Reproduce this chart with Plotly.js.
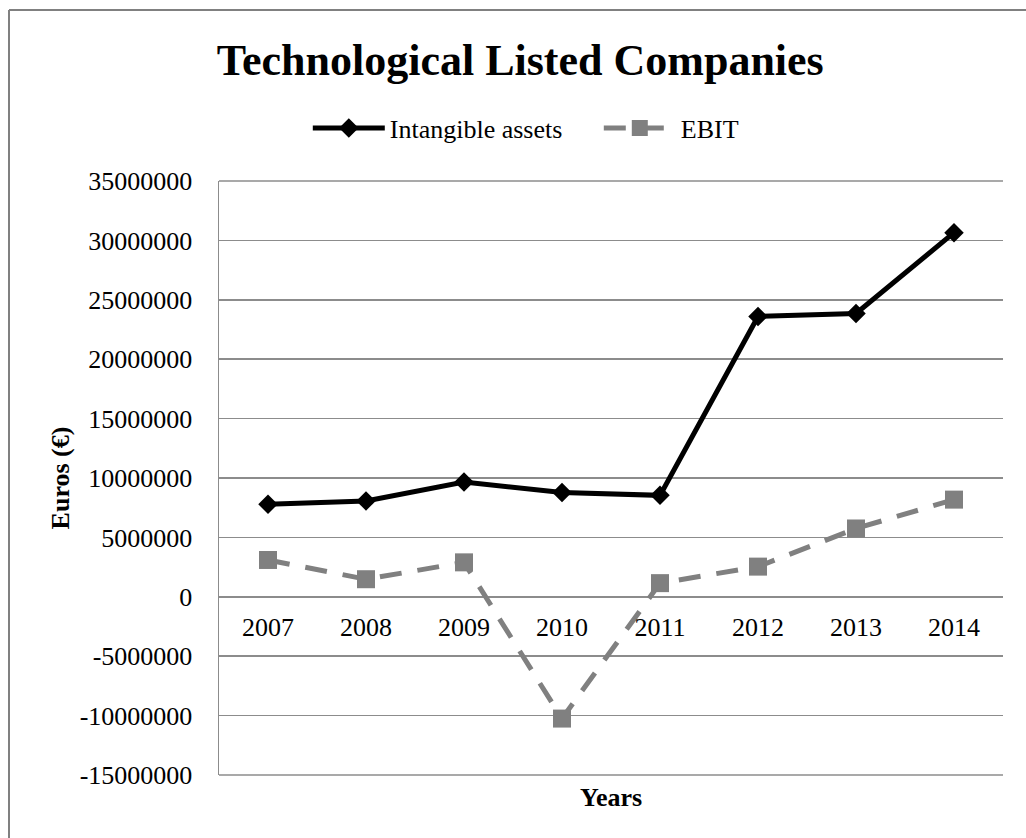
<!DOCTYPE html>
<html>
<head>
<meta charset="utf-8">
<script src="https://cdn.plot.ly/plotly-3.0.1.min.js"></script>
<style>html,body{margin:0;padding:0;background:#fff;}#chart{width:1026px;height:838px;}</style>
</head>
<body>
<div id="chart"></div>
<script>
const years = ['2007','2008','2009','2010','2011','2012','2013','2014'];
const intangibleAssets = [7790000, 8070000, 9660000, 8770000, 8540000, 23600000, 23850000, 30650000];
const ebit = [3100000, 1480000, 2900000, -10250000, 1150000, 2540000, 5750000, 8180000];
const yTicks = [-15000000, -10000000, -5000000, 0, 5000000, 10000000, 15000000, 20000000, 25000000, 30000000, 35000000];

const FONT = 'Liberation Serif';
const GRID = '#8c8c8c';

const traces = [
  {
    x: years, y: intangibleAssets, name: 'Intangible assets', type: 'scatter', mode: 'lines+markers',
    line: {color: '#000000', width: 5},
    marker: {symbol: 'diamond', size: 15, color: '#000000'}
  },
  {
    x: years, y: ebit, name: 'EBIT', type: 'scatter', mode: 'lines+markers',
    line: {color: '#808080', width: 5, dash: '22px,16px'},
    marker: {symbol: 'square', size: 18, color: '#808080'}
  }
];

const L = 219, R = 1003, T = 181, B = 775;
const px = v => (v - L) / (R - L);
const py = v => (B - v) / (B - T);

const layout = {
  width: 1026, height: 838,
  margin: {l: L, r: 1026 - R, t: T, b: 838 - B, pad: 0},
  paper_bgcolor: '#ffffff', plot_bgcolor: '#ffffff',
  font: {family: FONT, size: 26, color: '#000000'},
  hovermode: false,
  showlegend: true,
  title: {text: '<b>Technological Listed Companies</b>', font: {family: FONT, size: 44, color: '#000'},
          xref: 'container', x: 0.507, xanchor: 'center', yref: 'container', y: 1 - 60/838, yanchor: 'middle'},
  legend: {orientation: 'h', xref: 'container', yref: 'container', x: 0.300, xanchor: 'left',
           y: 1 - 128/838, yanchor: 'middle', font: {family: FONT, size: 26, color: '#000000'},
           itemwidth: 72, entrywidth: 204, tracegroupgap: 0, bgcolor: 'rgba(0,0,0,0)'},
  xaxis: {
    type: 'category', categoryorder: 'array', categoryarray: years,
    range: [-0.5, 7.5], anchor: 'free', position: 0.3,
    showgrid: false, zeroline: false, showline: false, ticks: '',
    ticklabelstandoff: 12,
    tickfont: {family: FONT, size: 26, color: '#000'}
  },
  yaxis: {
    range: [-15000000, 35000000], tickvals: yTicks, ticktext: yTicks.map(v => String(v)),
    showgrid: true, gridcolor: GRID, gridwidth: 1.5,
    zeroline: false, showline: true, linecolor: GRID, linewidth: 1.5,
    ticks: '', ticklabelstandoff: 20,
    tickfont: {family: FONT, size: 26, color: '#000'},
    title: {text: '<b>Euros (€)</b>', font: {family: FONT, size: 26, color: '#000'}, standoff: 2}
  },
  annotations: [
    {text: '<b>Years</b>', xref: 'paper', yref: 'paper', x: 0.5, y: py(797), xanchor: 'center', yanchor: 'middle',
     showarrow: false, font: {family: FONT, size: 26, color: '#000'}}
  ],
  shapes: [
    {type: 'line', xref: 'paper', yref: 'paper', x0: px(9), x1: px(1040), y0: py(10), y1: py(10), line: {color: '#808080', width: 2}},
    {type: 'line', xref: 'paper', yref: 'paper', x0: px(9), x1: px(9), y0: py(10), y1: py(850), line: {color: '#808080', width: 2}},
    {type: 'line', xref: 'paper', yref: 'paper', x0: 0, x1: 1, y0: 0, y1: 0, line: {color: GRID, width: 1.5}, layer: 'below'},
    {type: 'line', xref: 'paper', yref: 'paper', x0: 0, x1: 1, y0: 1, y1: 1, line: {color: GRID, width: 1.5}, layer: 'below'}
  ]
};

Plotly.newPlot('chart', traces, layout, {displayModeBar: false, staticPlot: true});
</script>
</body>
</html>
